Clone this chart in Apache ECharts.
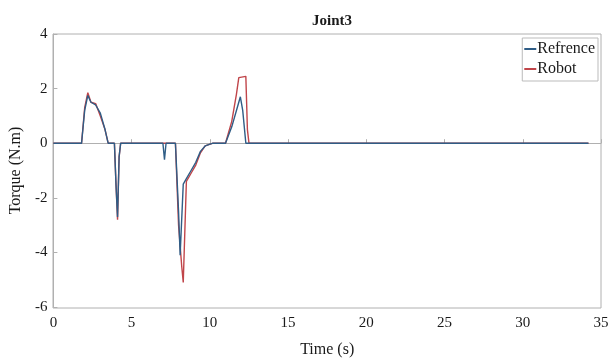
<!DOCTYPE html>
<html>
<head>
<meta charset="utf-8">
<script src="https://cdn.jsdelivr.net/npm/echarts@6/dist/echarts.min.js"></script>
<style>
  html, body { margin: 0; padding: 0; background: #fff; }
  #chart { width: 613px; height: 363px; }
</style>
</head>
<body>
<div id="chart"></div>
<script>
  // time stamps (s) and torque (N.m)
  var timeRef = [0, 1.8, 2.0, 2.2, 2.4, 2.7, 3.0, 3.3, 3.5, 3.9, 4.0, 4.1, 4.2, 4.3, 5.3, 5.4, 5.5, 7.0, 7.1, 7.2, 7.8, 8.0, 8.1, 8.3, 8.5, 8.8, 9.1, 9.4, 9.7, 10.2, 11.0, 11.4, 11.8, 11.95, 12.1, 12.3, 12.5, 34.2]
  var refValues = [0, 0, 1.2, 1.75, 1.5, 1.4, 1.1, 0.5, 0, 0, -1.5, -2.7, -0.5, 0, 0, 0.05, 0, 0, -0.6, 0, 0, -2.5, -4.1, -1.5, -1.3, -1.0, -0.7, -0.3, -0.1, 0, 0, 0.6, 1.4, 1.7, 1.2, 0, 0, 0]

  var timeRobot = [0, 1.8, 2.0, 2.2, 2.4, 2.7, 3.0, 3.3, 3.5, 3.9, 4.0, 4.1, 4.2, 4.3, 5.3, 5.4, 5.5, 7.8, 8.0, 8.2, 8.3, 8.5, 8.8, 9.1, 9.4, 9.7, 10.2, 11.0, 11.4, 11.7, 11.85, 12.3, 12.4, 12.5, 34.2]
  var robotValues = [0, 0, 1.3, 1.85, 1.5, 1.45, 1.0, 0.5, 0, 0, -1.5, -2.8, -0.5, 0, 0, 0.05, 0, 0, -3.0, -4.5, -5.1, -1.4, -1.1, -0.8, -0.35, -0.1, 0, 0, 0.8, 1.8, 2.4, 2.45, 0.5, 0, 0]

  var seriesNames = ['Refrence', 'Robot']

  function pairUp(ts, vs) {
    var out = []
    ts.forEach(function (t, i) { out.push([t, vs[i]]) })
    return out
  }

  var font = 'Liberation Serif, Times New Roman, serif'
  var axisGray = '#b0b0b0'
  var textColor = '#1a1a1a'

  var chart = echarts.init(document.getElementById('chart'))
  chart.setOption({
    animation: false,
    textStyle: { fontFamily: font },
    title: {
      text: 'Joint3',
      left: 327,
      textAlign: 'center',
      top: 9,
      textStyle: { fontFamily: font, fontSize: 15, fontWeight: 'bold', color: textColor }
    },
    color: ['#2f5d86', '#c0454a'],
    legend: {
      data: seriesNames,
      orient: 'vertical',
      right: 15,
      top: 38,
      itemWidth: 12,
      itemHeight: 2,
      itemGap: 4,
      padding: [3, 3, 4, 2],
      borderColor: '#bbb',
      borderWidth: 1,
      backgroundColor: '#fff',
      icon: 'rect',
      textStyle: { fontFamily: font, fontSize: 16, color: textColor, padding: [0, 0, 0, -4] }
    },
    grid: { left: 53, right: 12, top: 34, bottom: 55 },
    xAxis: {
      type: 'value',
      min: 0, max: 35, interval: 5,
      name: 'Time (s)',
      nameLocation: 'middle',
      nameGap: 35,
      nameTextStyle: { fontFamily: font, fontSize: 16, color: textColor },
      axisLine: { lineStyle: { color: axisGray } },
      axisTick: { inside: true, length: 4, lineStyle: { color: axisGray } },
      axisLabel: { fontFamily: font, fontSize: 15, color: textColor, margin: 9 },
      splitLine: { show: false }
    },
    yAxis: {
      type: 'value',
      min: -6, max: 4, interval: 2,
      name: 'Torque (N.m)',
      nameLocation: 'middle',
      nameGap: 27,
      nameTextStyle: { fontFamily: font, fontSize: 16, color: textColor },
      axisLine: { show: true, lineStyle: { color: axisGray } },
      axisTick: { show: true, inside: true, length: 4, lineStyle: { color: axisGray } },
      axisLabel: { fontFamily: font, fontSize: 15, color: textColor, margin: 6 },
      splitLine: { show: false }
    },
    graphic: [{
      type: 'rect',
      shape: { x: 53, y: 34, width: 548, height: 274 },
      style: { fill: 'none', stroke: axisGray, lineWidth: 1 },
      silent: true,
      z: -1
    }],
    series: [
      {
        name: seriesNames[0],
        type: 'line',
        showSymbol: false,
        lineStyle: { width: 1.4 },
        data: pairUp(timeRef, refValues),
        z: 3
      },
      {
        name: seriesNames[1],
        type: 'line',
        showSymbol: false,
        lineStyle: { width: 1.4 },
        data: pairUp(timeRobot, robotValues),
        z: 2
      }
    ]
  })
</script>
</body>
</html>
